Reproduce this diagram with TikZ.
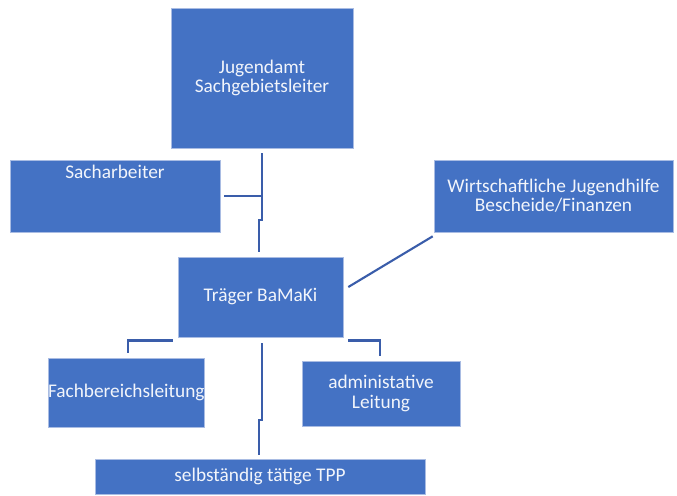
\documentclass[tikz,border=0pt]{standalone}
\usepackage{fontspec}
\setmainfont{Carlito}
\usetikzlibrary{calc}
\definecolor{boxblue}{HTML}{4472C4}
\definecolor{boxline}{HTML}{A9BCE3}
\definecolor{lineblue}{HTML}{3A5DAA}
\definecolor{txtwhite}{HTML}{F2F5FB}
\begin{document}
\begin{tikzpicture}[x=0.03cm, y=-0.03cm,
    orgbox/.style={rectangle, draw=boxline, line width=0.5pt, fill=boxblue, text=txtwhite, font=\fontsize{16.5}{16.5}\selectfont, align=center, inner xsep=0pt, inner ysep=2pt},
    conn/.style={draw=lineblue, line width=2.2pt},
]
\useasboundingbox (0,0) rectangle (677,495);

\node[orgbox, minimum width=182*0.03cm, minimum height=140*0.03cm] (jug) at (262,78) {Jugendamt\\Sachgebietsleiter};
\node[orgbox, minimum width=210*0.03cm, minimum height=72*0.03cm,
      label={[anchor=north, text=txtwhite, font=\fontsize{16.5}{16.5}\selectfont, yshift=-1pt]north:Sacharbeiter}] (sach) at (115,196) {};
\node[orgbox, minimum width=239*0.03cm, minimum height=72*0.03cm] (wirt) at (553.5,196) {Wirtschaftliche Jugendhilfe\\Bescheide/Finanzen};
\node[orgbox, minimum width=165*0.03cm, minimum height=80*0.03cm] (trag) at (260.5,297) {Träger BaMaKi};
\node[orgbox, text width=156*0.03cm, minimum height=69*0.03cm] (fach) at (126,392.5) {Fachbereichsleitung};
\node[orgbox, minimum width=158*0.03cm, minimum height=65*0.03cm] (adm) at (381,393.5) {administative\\Leitung};
\node[orgbox, minimum width=330*0.03cm, minimum height=35*0.03cm] (selb) at (260,476.5) {selbständig tätige TPP};

% Verbindungen
\coordinate (jogA) at (262,220);
\coordinate (jogB) at (259,220);
\coordinate (jogC) at (262,420);
\coordinate (jogD) at (259,420);

\draw[conn] ($(jug.south)+(0,5)$) -- (jogA) -- (jogB) -- ($(jogB |- trag.north)+(0,-5)$);
\draw[conn, line width=1.8pt] ($(sach.east)+(4,0)$) -- (sach.east -| jogA);
\draw[conn, line width=1.8pt] ($(trag.east)+(5,-10)$) -- ($(wirt.south west)+(-1,4)$);
\draw[conn] ($(trag.south west)+(-5,3)$) -| ($(fach.north)+(2,-5)$);
\draw[conn] ($(trag.south east)+(5,3)$) -| ($(adm.north)+(-1,-5)$);
\draw[conn] ($(jogC |- trag.south)+(0,6)$) -- (jogC) -- (jogD) -- ($(jogD |- selb.north)+(0,-4)$);
\end{tikzpicture}
\end{document}
